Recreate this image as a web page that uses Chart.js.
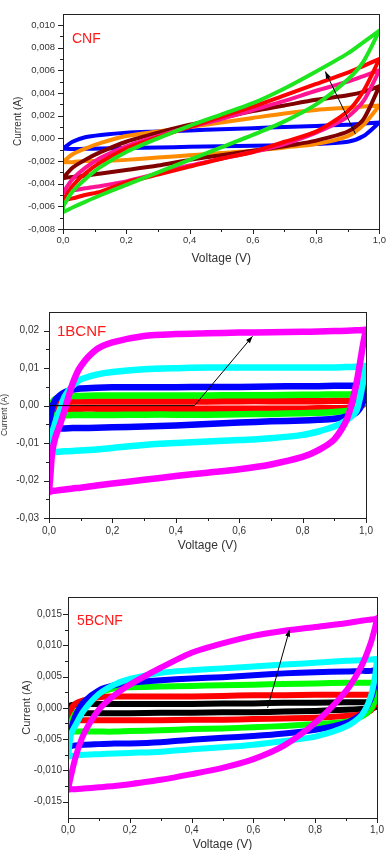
<!DOCTYPE html>
<html>
<head>
<meta charset="utf-8">
<script src="https://cdn.jsdelivr.net/npm/chart.js@4.4.1/dist/chart.umd.min.js"></script>
<style>
  body { margin: 0; background: #fff; width: 392px; height: 850px; position: relative; overflow: hidden; }
  canvas { position: absolute; left: 0; }
</style>
</head>
<body>
<canvas id="cnfChart" width="392" height="270" style="top:0"></canvas>
<canvas id="bcnf1Chart" width="392" height="270" style="top:290px"></canvas>
<canvas id="bcnf5Chart" width="392" height="280" style="top:580px"></canvas>
<script>
// CV loops (current vs voltage) for CNF, 1BCNF and 5BCNF

// --- CNF panel ---
const cnfVoltage = [0, 0.03, 0.07, 0.12, 0.2, 0.3, 0.4, 0.5, 0.6, 0.7, 0.8, 0.9, 0.95, 1.0];
const cnfBlueUp = [-0.0009, -0.0003, 0.0001, 0.0003, 0.0005, 0.0006, 0.0007, 0.0008, 0.0009, 0.001, 0.0011, 0.0012, 0.0013, 0.0014];
const cnfBlueDown = [-0.0009, -0.00095, -0.00092, -0.0009, -0.00085, -0.0008, -0.00075, -0.0007, -0.00065, -0.0006, -0.0005, -0.0003, 0.0002, 0.0014];
const cnfOrangeUp = [-0.0021, -0.0014, -0.0009, -0.0004, 0.0002, 0.0006, 0.001, 0.0014, 0.0018, 0.0022, 0.0025, 0.0027, 0.0028, 0.0029];
const cnfOrangeDown = [-0.0021, -0.0021, -0.002, -0.002, -0.0019, -0.0017, -0.0015, -0.0013, -0.0011, -0.0008, -0.0005, 0.0002, 0.0012, 0.0029];
const cnfMaroonUp = [-0.0035, -0.0026, -0.0019, -0.0012, -0.0003, 0.0005, 0.0012, 0.0018, 0.0024, 0.0029, 0.0034, 0.0038, 0.0041, 0.0046];
const cnfMaroonDown = [-0.0035, -0.0034, -0.0033, -0.0031, -0.0028, -0.0024, -0.0019, -0.0015, -0.0011, -0.0007, -0.0002, 0.0006, 0.0017, 0.0046];
const cnfPinkUp = [-0.0048, -0.0036, -0.0026, -0.0017, -0.0007, 0.0002, 0.001, 0.0017, 0.0025, 0.0033, 0.0042, 0.005, 0.0055, 0.006];
const cnfPinkDown = [-0.0048, -0.0046, -0.0044, -0.0042, -0.0038, -0.0031, -0.0024, -0.0018, -0.0012, -0.0005, 0.0005, 0.0019, 0.0033, 0.006];
const cnfRedUp = [-0.0055, -0.0042, -0.0031, -0.0021, -0.0009, 0.0001, 0.001, 0.0019, 0.0028, 0.0038, 0.0048, 0.0058, 0.0064, 0.007];
const cnfRedDown = [-0.0055, -0.0053, -0.005, -0.0047, -0.0039, -0.0032, -0.0025, -0.0018, -0.0012, -0.0003, 0.0006, 0.0024, 0.0042, 0.007];
const cnfGreenUp = [-0.006, -0.0047, -0.0036, -0.0025, -0.0012, 0.0, 0.0011, 0.0021, 0.0031, 0.0044, 0.0059, 0.0075, 0.0085, 0.0095];
const cnfGreenDown = [-0.0065, -0.0061, -0.0056, -0.005, -0.0041, -0.003, -0.0019, -0.0008, 0.0003, 0.0015, 0.003, 0.0052, 0.0068, 0.0095];
const cnfArrowV = [0.924, 0.829];
const cnfArrowI = [0.0004, 0.0059];

// --- 1BCNF panel ---
const b1Voltage = [0, 0.004, 0.01, 0.02, 0.035, 0.05, 0.075, 0.1, 0.15, 0.2, 0.3, 0.4, 0.5, 0.6, 0.7, 0.8, 0.85, 0.9, 0.94, 0.97, 0.99, 1.0];
const b1MagentaUp = [-0.023, -0.019, -0.0125, -0.0085, -0.005, -0.001, 0.006, 0.0105, 0.015, 0.0169, 0.0186, 0.0191, 0.0193, 0.0195, 0.0196, 0.0197, 0.0198, 0.0199, 0.02, 0.0201, 0.0202, 0.0203];
const b1MagentaDown = [-0.0231, -0.0229, -0.0228, -0.0227, -0.0225, -0.0224, -0.0221, -0.0219, -0.0213, -0.0208, -0.0198, -0.0188, -0.0179, -0.017, -0.0157, -0.0137, -0.0119, -0.009, -0.0036, 0.006, 0.016, 0.0203];
const b1CyanUp = [-0.0125, -0.011, -0.0075, -0.0045, -0.001, 0.0025, 0.0053, 0.007, 0.0083, 0.009, 0.0097, 0.01, 0.0102, 0.0102, 0.0102, 0.0102, 0.0102, 0.0102, 0.0103, 0.0104, 0.0105, 0.0106];
const b1CyanDown = [-0.0125, -0.0125, -0.0124, -0.0124, -0.0123, -0.0122, -0.0121, -0.012, -0.0117, -0.0113, -0.0105, -0.01, -0.0096, -0.0092, -0.0087, -0.0078, -0.0069, -0.0056, -0.0038, -0.0013, 0.006, 0.0106];
const b1BlueUp = [-0.006, -0.003, -0.0005, 0.0015, 0.0028, 0.0036, 0.0043, 0.0046, 0.0048, 0.0049, 0.0049, 0.0049, 0.005, 0.005, 0.0051, 0.0052, 0.0052, 0.0053, 0.0053, 0.0054, 0.0055, 0.0055];
const b1BlueDown = [-0.0062, -0.0062, -0.0062, -0.0062, -0.0061, -0.0061, -0.006, -0.006, -0.0059, -0.0058, -0.0056, -0.0053, -0.0049, -0.0045, -0.0042, -0.004, -0.0038, -0.0035, -0.0029, -0.0018, 0.001, 0.0055];
const b1GreenUp = [-0.002, -0.0005, 0.0008, 0.0018, 0.0023, 0.0025, 0.0026, 0.0026, 0.0027, 0.0027, 0.0027, 0.0027, 0.0027, 0.0028, 0.0028, 0.0029, 0.0029, 0.003, 0.003, 0.0031, 0.0031, 0.0031];
const b1GreenDown = [-0.0026, -0.0026, -0.0026, -0.0026, -0.0026, -0.0026, -0.0025, -0.0025, -0.0025, -0.0025, -0.0024, -0.0024, -0.0024, -0.0023, -0.0022, -0.002, -0.0019, -0.0017, -0.0014, -0.0009, 0.0005, 0.0031];
const b1RedUp = [-0.0009, 0.0, 0.0006, 0.0009, 0.001, 0.001, 0.0011, 0.0011, 0.0011, 0.0011, 0.0011, 0.0011, 0.0011, 0.0012, 0.0012, 0.0012, 0.0012, 0.0013, 0.0013, 0.0013, 0.0014, 0.0014];
const b1RedDown = [-0.0009, -0.0009, -0.0009, -0.0009, -0.0009, -0.0009, -0.0009, -0.0008, -0.0008, -0.0008, -0.0008, -0.0008, -0.0008, -0.0008, -0.0008, -0.0008, -0.0007, -0.0007, -0.0006, -0.0004, 0.0002, 0.0014];
const b1ArrowV = [0.0, 0.459, 0.642];
const b1ArrowI = [0.0, 0.0, 0.0185];

// --- 5BCNF panel ---
const b5Voltage = [0, 0.01, 0.025, 0.05, 0.1, 0.15, 0.2, 0.3, 0.4, 0.5, 0.6, 0.7, 0.8, 0.9, 0.95, 0.98, 0.995, 1.0];
const b5MagentaUp = [-0.0131, -0.0108, -0.0078, -0.0043, -0.0003, 0.002, 0.0037, 0.0064, 0.0088, 0.0103, 0.0115, 0.0123, 0.0129, 0.0135, 0.0139, 0.0141, 0.0142, 0.0143];
const b5MagentaDown = [-0.0131, -0.013, -0.013, -0.0129, -0.0127, -0.0125, -0.0122, -0.0115, -0.0106, -0.0096, -0.0082, -0.006, -0.0024, 0.0027, 0.0067, 0.0104, 0.0131, 0.0143];
const b5CyanUp = [-0.0078, -0.0042, -0.0027, -0.0005, 0.0022, 0.0037, 0.0046, 0.0056, 0.006, 0.0063, 0.0066, 0.0069, 0.0072, 0.0075, 0.0076, 0.0077, 0.0078, 0.0078];
const b5CyanDown = [-0.0078, -0.0077, -0.0076, -0.0075, -0.0074, -0.0073, -0.0072, -0.007, -0.0066, -0.0063, -0.0059, -0.0053, -0.0046, -0.003, -0.0012, 0.0018, 0.0055, 0.0078];
const b5BlueUp = [-0.0062, -0.0035, -0.0012, 0.0009, 0.0028, 0.0036, 0.004, 0.0044, 0.0047, 0.0049, 0.0052, 0.0055, 0.0057, 0.0058, 0.0059, 0.0059, 0.006, 0.006];
const b5BlueDown = [-0.0062, -0.0061, -0.006, -0.0059, -0.0058, -0.0057, -0.0057, -0.0055, -0.0051, -0.0048, -0.0045, -0.0041, -0.0035, -0.0024, -0.001, 0.0014, 0.0042, 0.006];
const b5GreenUp = [-0.0037, -0.0022, -0.0008, 0.0005, 0.0023, 0.0031, 0.0033, 0.0034, 0.0035, 0.0036, 0.0037, 0.0038, 0.0039, 0.004, 0.004, 0.004, 0.004, 0.0039];
const b5GreenDown = [-0.0037, -0.0038, -0.0038, -0.0038, -0.0038, -0.0038, -0.0037, -0.0036, -0.0034, -0.0033, -0.0031, -0.0029, -0.0026, -0.0022, -0.0014, -0.0002, 0.0015, 0.0039];
const b5RedUp = [-0.0019, -0.0002, 0.0007, 0.0012, 0.0017, 0.0018, 0.0018, 0.0018, 0.0018, 0.0019, 0.002, 0.002, 0.0021, 0.0021, 0.0021, 0.0021, 0.0021, 0.002];
const b5RedDown = [-0.0019, -0.002, -0.002, -0.002, -0.002, -0.002, -0.002, -0.002, -0.0019, -0.0019, -0.0018, -0.0017, -0.0016, -0.0013, -0.001, -0.0004, 0.0008, 0.002];
const b5BlackUp = [-0.0001, 0.0004, 0.0005, 0.0006, 0.0006, 0.0006, 0.0006, 0.0006, 0.0006, 0.0007, 0.0007, 0.0008, 0.0008, 0.0009, 0.0009, 0.0009, 0.0008, 0.0004];
const b5BlackDown = [-0.0001, -0.0007, -0.0008, -0.00085, -0.00085, -0.00085, -0.00085, -0.0008, -0.0008, -0.0007, -0.0007, -0.0006, -0.0005, -0.0003, -0.0002, -0.0001, 0.0001, 0.0004];
const b5ArrowV = [0.646, 0.717];
const b5ArrowI = [0.0, 0.0125];

const TEXT_COLOR = "#333";
const FONT = "'Liberation Sans', Arial, sans-serif";

function loopPoints(voltage, up, down) {
  const pts = voltage.map((v, i) => ({ x: v, y: up[i] }));
  for (let i = voltage.length - 1; i >= 0; i--) {
    pts.push({ x: voltage[i], y: down[i] });
  }
  pts.push({ x: voltage[0], y: up[0] });
  return pts;
}

function commaFixed(value, digits) {
  if (Math.abs(value) < 1e-9) value = 0;
  return value.toFixed(digits).replace(".", ",");
}

// loops listed bottom to top
function buildDatasets(loops, width, arrowV, arrowI) {
  const sets = loops.map((loop, i) => ({
    data: loopPoints(loop.voltage, loop.up, loop.down),
    borderColor: loop.color,
    borderWidth: width,
    showLine: true,
    pointRadius: 0,
    tension: 0.25,
    fill: false,
    order: loops.length - i + 1,
  }));
  sets.push({
    data: arrowV.map((v, i) => ({ x: v, y: arrowI[i] })),
    borderColor: "#000",
    borderWidth: 1,
    showLine: true,
    pointRadius: 0,
    tension: 0,
    arrow: true,
    order: 0,
  });
  return sets;
}

const framePlugin = {
  id: "frameAndTicks",
  afterDraw(chart, args, opts) {
    const { ctx, chartArea: a, scales } = chart;
    ctx.save();
    ctx.strokeStyle = "#222";
    ctx.lineWidth = 1;
    ctx.strokeRect(Math.round(a.left) + 0.5, Math.round(a.top) + 0.5,
      Math.round(a.right - a.left), Math.round(a.bottom - a.top));

    ctx.beginPath();
    const xs = scales.x.ticks;
    xs.forEach((t, i) => {
      const px = Math.round(scales.x.getPixelForValue(t.value)) + 0.5;
      ctx.moveTo(px, a.bottom); ctx.lineTo(px, a.bottom + 5);
      if (i < xs.length - 1) {
        const mx = Math.round(scales.x.getPixelForValue((t.value + xs[i + 1].value) / 2)) + 0.5;
        ctx.moveTo(mx, a.bottom); ctx.lineTo(mx, a.bottom + 3);
      }
    });
    const ys = scales.y.ticks;
    ys.forEach((t, i) => {
      const py = Math.round(scales.y.getPixelForValue(t.value)) + 0.5;
      ctx.moveTo(a.left, py); ctx.lineTo(a.left - 5, py);
      if (i < ys.length - 1) {
        const my = Math.round(scales.y.getPixelForValue((t.value + ys[i + 1].value) / 2)) + 0.5;
        ctx.moveTo(a.left, my); ctx.lineTo(a.left - 3, my);
      }
    });
    ctx.stroke();

    // sample name
    if (opts.text) {
      ctx.fillStyle = "#ff1a1a";
      ctx.font = opts.size + "px " + FONT;
      ctx.textBaseline = "middle";
      ctx.fillText(opts.text, a.left + opts.dx, a.top + opts.dy);
    }
    ctx.restore();
  },
  afterDatasetsDraw(chart) {
    const ctx = chart.ctx;
    chart.data.datasets.forEach((ds, i) => {
      if (!ds.arrow) return;
      const pts = chart.getDatasetMeta(i).data;
      const p1 = pts[pts.length - 2], p2 = pts[pts.length - 1];
      const ang = Math.atan2(p2.y - p1.y, p2.x - p1.x);
      ctx.save();
      ctx.fillStyle = "#000";
      ctx.beginPath();
      ctx.moveTo(p2.x, p2.y);
      ctx.lineTo(p2.x - 7 * Math.cos(ang) + 2.5 * Math.sin(ang), p2.y - 7 * Math.sin(ang) - 2.5 * Math.cos(ang));
      ctx.lineTo(p2.x - 7 * Math.cos(ang) - 2.5 * Math.sin(ang), p2.y - 7 * Math.sin(ang) + 2.5 * Math.cos(ang));
      ctx.closePath();
      ctx.fill();
      ctx.restore();
    });
  },
};

function createCvChart(id, cfg) {
  new Chart(document.getElementById(id).getContext("2d"), {
    type: "scatter",
    data: { datasets: cfg.datasets },
    plugins: [framePlugin],
    options: {
      responsive: false,
      animation: false,
      devicePixelRatio: 1,
      layout: { autoPadding: false, padding: cfg.padding },
      plugins: {
        legend: { display: false },
        tooltip: { enabled: false },
        frameAndTicks: cfg.label,
      },
      scales: {
        x: {
          type: "linear",
          min: 0,
          max: 1,
          grid: { display: false, drawTicks: false },
          border: { display: false },
          afterFit: (scale) => { scale.height = cfg.xHeight; },
          ticks: {
            stepSize: 0.2,
            includeBounds: false,
            maxRotation: 0,
            padding: cfg.xTickPad,
            color: TEXT_COLOR,
            font: { family: FONT, size: cfg.tickSize },
            callback: (v) => commaFixed(v, 1),
          },
          title: {
            display: true,
            text: "Voltage (V)",
            color: TEXT_COLOR,
            font: { family: FONT, size: 12 },
            padding: { top: 0, bottom: cfg.xTitlePad },
          },
        },
        y: {
          type: "linear",
          min: cfg.yMin,
          max: cfg.yMax,
          grid: { display: false, drawTicks: false },
          border: { display: false },
          afterFit: (scale) => { scale.width = cfg.yWidth; },
          ticks: {
            stepSize: cfg.yStep,
            includeBounds: false,
            padding: cfg.yTickPad,
            color: TEXT_COLOR,
            font: { family: FONT, size: cfg.tickSize },
            callback: (v) => commaFixed(v, cfg.yDigits),
          },
          title: {
            display: true,
            text: "Current (A)",
            color: TEXT_COLOR,
            font: { family: FONT, size: cfg.yTitleSize },
            padding: { top: cfg.yTitlePad, bottom: 0 },
          },
        },
      },
    },
  });
}

createCvChart("cnfChart", {
  datasets: buildDatasets([
    { voltage: cnfVoltage, up: cnfBlueUp, down: cnfBlueDown, color: "#0000ff" },
    { voltage: cnfVoltage, up: cnfOrangeUp, down: cnfOrangeDown, color: "#ff8c00" },
    { voltage: cnfVoltage, up: cnfMaroonUp, down: cnfMaroonDown, color: "#800000" },
    { voltage: cnfVoltage, up: cnfPinkUp, down: cnfPinkDown, color: "#ff1493" },
    { voltage: cnfVoltage, up: cnfRedUp, down: cnfRedDown, color: "#ff0000" },
    { voltage: cnfVoltage, up: cnfGreenUp, down: cnfGreenDown, color: "#1ee61e" },
  ], 4, cnfArrowV, cnfArrowI),
  padding: { top: 11, right: 7, left: 0, bottom: 0 },
  xHeight: 41, yWidth: 63,
  yMin: -0.008, yMax: 0.011, yStep: 0.002, yDigits: 3,
  tickSize: 9.5, xTickPad: 6, yTickPad: 8, xTitlePad: 4,
  yTitleSize: 10, yTitlePad: 12,
  label: { text: "CNF", size: 14, dx: 9, dy: 25 },
});

createCvChart("bcnf1Chart", {
  datasets: buildDatasets([
    { voltage: b1Voltage, up: b1RedUp, down: b1RedDown, color: "#ff0000" },
    { voltage: b1Voltage, up: b1GreenUp, down: b1GreenDown, color: "#00ff00" },
    { voltage: b1Voltage, up: b1BlueUp, down: b1BlueDown, color: "#0000ff" },
    { voltage: b1Voltage, up: b1CyanUp, down: b1CyanDown, color: "#00ffff" },
    { voltage: b1Voltage, up: b1MagentaUp, down: b1MagentaDown, color: "#ff00ff" },
  ], 6.5, b1ArrowV, b1ArrowI),
  padding: { top: 22, right: 26, left: 0, bottom: 0 },
  xHeight: 42, yWidth: 49,
  yMin: -0.03, yMax: 0.025, yStep: 0.01, yDigits: 2,
  tickSize: 10, xTickPad: 7, yTickPad: 10, xTitlePad: 7,
  yTitleSize: 8.5, yTitlePad: 0,
  label: { text: "1BCNF", size: 15, dx: 8, dy: 20 },
});

createCvChart("bcnf5Chart", {
  datasets: buildDatasets([
    { voltage: b5Voltage, up: b5BlackUp, down: b5BlackDown, color: "#000000" },
    { voltage: b5Voltage, up: b5RedUp, down: b5RedDown, color: "#ff0000" },
    { voltage: b5Voltage, up: b5GreenUp, down: b5GreenDown, color: "#00ff00" },
    { voltage: b5Voltage, up: b5BlueUp, down: b5BlueDown, color: "#0000ff" },
    { voltage: b5Voltage, up: b5CyanUp, down: b5CyanDown, color: "#00ffff" },
    { voltage: b5Voltage, up: b5MagentaUp, down: b5MagentaDown, color: "#ff00ff" },
  ], 6, b5ArrowV, b5ArrowI),
  padding: { top: 17, right: 15, left: 0, bottom: 0 },
  xHeight: 42, yWidth: 68,
  yMin: -0.0176, yMax: 0.0177, yStep: 0.005, yDigits: 3,
  tickSize: 10, xTickPad: 6, yTickPad: 6, xTitlePad: 8,
  yTitleSize: 11, yTitlePad: 20,
  label: { text: "5BCNF", size: 14, dx: 9, dy: 24 },
});
</script>
</body>
</html>
